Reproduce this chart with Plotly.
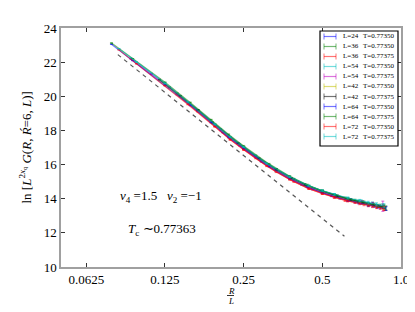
import math
import plotly.graph_objects as go

# ---------------- data ----------------
x24 = [0.208, 0.25, 0.292, 0.333, 0.375, 0.417, 0.458, 0.5, 0.542, 0.583, 0.625, 0.667, 0.708, 0.75, 0.792, 0.833, 0.875]
x36 = [0.139, 0.167, 0.194, 0.222, 0.25, 0.278, 0.333, 0.389, 0.444, 0.5, 0.556, 0.611, 0.667, 0.722, 0.778, 0.833, 0.861]
x54 = [0.0926, 0.111, 0.130, 0.167, 0.204, 0.241, 0.278, 0.333, 0.389, 0.444, 0.5, 0.556, 0.630, 0.704, 0.778, 0.852]
x42 = [0.119, 0.143, 0.167, 0.190, 0.238, 0.286, 0.333, 0.381, 0.429, 0.5, 0.571, 0.643, 0.714, 0.786, 0.857]
x64 = [0.078, 0.094, 0.125, 0.156, 0.1875, 0.219, 0.25, 0.3125, 0.375, 0.4375, 0.5, 0.5625, 0.625, 0.6875, 0.75, 0.8125, 0.875]
x72 = [0.0833, 0.0972, 0.125, 0.153, 0.194, 0.222, 0.25, 0.306, 0.375, 0.444, 0.5, 0.556, 0.625, 0.694, 0.75, 0.806, 0.861]

y_L24_T77350 = [17.88, 16.93, 16.17, 15.61, 15.16, 14.83, 14.56, 14.35, 14.17, 14.03, 13.90, 13.81, 13.72, 13.63, 13.56, 13.49, 13.42]
y_L36_T77350 = [20.18, 19.20, 18.36, 17.61, 17.02, 16.52, 15.72, 15.15, 14.74, 14.45, 14.22, 14.04, 13.91, 13.79, 13.68, 13.59, 13.54]
y_L36_T77375 = [20.10, 19.10, 18.24, 17.47, 16.87, 16.37, 15.57, 15.00, 14.59, 14.30, 14.08, 13.90, 13.78, 13.66, 13.56, 13.47, 13.43]
y_L54_T77350 = [22.24, 21.33, 20.54, 19.20, 18.08, 17.20, 16.52, 15.72, 15.15, 14.75, 14.46, 14.24, 14.01, 13.86, 13.71, 13.59]
y_L54_T77375 = [22.18, 21.30, 20.50, 19.13, 18.01, 17.12, 16.44, 15.64, 15.07, 14.66, 14.37, 14.15, 13.93, 13.78, 13.65, 13.56]
y_L42_T77350 = [20.95, 19.99, 19.15, 18.42, 17.21, 16.32, 15.66, 15.16, 14.78, 14.39, 14.11, 13.90, 13.75, 13.61, 13.49]
y_L42_T77375 = [20.98, 20.03, 19.20, 18.47, 17.26, 16.37, 15.71, 15.21, 14.83, 14.44, 14.16, 13.95, 13.80, 13.66, 13.52]
y_L64_T77350 = [23.05, 22.09, 20.66, 19.47, 18.46, 17.59, 16.93, 15.89, 15.18, 14.69, 14.36, 14.11, 13.91, 13.77, 13.64, 13.53, 13.43]
y_L64_T77375 = [23.12, 22.20, 20.82, 19.64, 18.63, 17.76, 17.09, 16.04, 15.32, 14.81, 14.46, 14.20, 13.99, 13.84, 13.70, 13.58, 13.46]
y_L72_T77350 = [22.72, 21.90, 20.62, 19.52, 18.21, 17.46, 16.87, 15.91, 15.12, 14.59, 14.30, 14.08, 13.87, 13.72, 13.61, 13.51, 13.42]
y_L72_T77375 = [22.79, 22.01, 20.76, 19.67, 18.37, 17.62, 17.03, 16.07, 15.28, 14.76, 14.47, 14.25, 14.04, 13.89, 13.77, 13.67, 13.58]

e24 = [0.02, 0.02, 0.03, 0.03, 0.03, 0.04, 0.04, 0.04, 0.05, 0.05, 0.05, 0.06, 0.06, 0.07, 0.07, 0.08, 0.10]
e36 = [0.02, 0.02, 0.02, 0.03, 0.03, 0.03, 0.04, 0.04, 0.04, 0.05, 0.05, 0.06, 0.06, 0.07, 0.08, 0.09, 0.10]
e54 = [0.01, 0.02, 0.02, 0.02, 0.03, 0.03, 0.03, 0.04, 0.04, 0.05, 0.05, 0.06, 0.07, 0.08, 0.10, 0.12]
e54b = [0.01, 0.02, 0.02, 0.02, 0.03, 0.03, 0.03, 0.04, 0.04, 0.05, 0.05, 0.06, 0.08, 0.10, 0.14, 0.30]
e42 = [0.02, 0.02, 0.02, 0.03, 0.03, 0.03, 0.04, 0.04, 0.05, 0.05, 0.06, 0.06, 0.07, 0.08, 0.10]
e64 = [0.01, 0.01, 0.02, 0.02, 0.02, 0.03, 0.03, 0.03, 0.04, 0.04, 0.05, 0.05, 0.06, 0.07, 0.08, 0.09, 0.12]
e72 = [0.01, 0.01, 0.02, 0.02, 0.02, 0.03, 0.03, 0.03, 0.04, 0.04, 0.05, 0.05, 0.06, 0.07, 0.08, 0.09, 0.12]

labels_L = ["L=24", "L=36", "L=36", "L=54", "L=54", "L=42", "L=42", "L=64", "L=64", "L=72", "L=72"]
labels_T = ["T=0.77350", "T=0.77350", "T=0.77375", "T=0.77350", "T=0.77375", "T=0.77350",
            "T=0.77375", "T=0.77350", "T=0.77375", "T=0.77350", "T=0.77375"]

dash_x = [0.0825, 0.6075]
dash_y = [22.44, 11.80]

x_ticks = [0.0625, 0.125, 0.25, 0.5, 1.0]
x_ticktext = ["0.0625", "0.125", "0.25", "0.5", "1.0"]
y_ticks = [10, 12, 14, 16, 18, 20, 22, 24]

# ---------------- styling ----------------
colors = ["rgba(0,0,255,0.55)", "rgba(0,128,0,0.55)", "rgba(255,0,0,0.55)", "rgba(0,191,191,0.55)",
          "rgba(191,0,191,0.55)", "rgba(191,191,0,0.55)", "rgba(0,0,0,0.55)", "rgba(0,0,255,0.55)",
          "rgba(0,128,0,0.55)", "rgba(255,0,0,0.55)", "rgba(0,191,191,0.55)"]

series = [
    (x24, y_L24_T77350, e24), (x36, y_L36_T77350, e36), (x36, y_L36_T77375, e36),
    (x54, y_L54_T77350, e54), (x54, y_L54_T77375, e54b), (x42, y_L42_T77350, e42),
    (x42, y_L42_T77375, e42), (x64, y_L64_T77350, e64), (x64, y_L64_T77375, e64),
    (x72, y_L72_T77350, e72), (x72, y_L72_T77375, e72),
]

SERIF = "Liberation Serif, Times New Roman, serif"

fig = go.Figure()
fig.add_trace(go.Scatter(x=dash_x, y=dash_y, mode="lines",
                         line=dict(color="#555555", width=1.2, dash="4px,4px"),
                         showlegend=False, hoverinfo="skip"))
for (xs, ys, es), c in zip(series, colors):
    fig.add_trace(go.Scatter(
        x=xs, y=ys, mode="lines",
        line=dict(color=c, width=1.2),
        error_y=dict(type="data", array=es, color=c, thickness=1, width=1.5),
        showlegend=False))

# plot-area geometry in pixels
W, H = 415, 312
ML, MR, MT, MB = 53, 22, 20, 53
PW, PH = W - ML - MR, H - MT - MB

def px(xp):
    return (xp - ML) / PW

def py(yp):
    return (H - MB - yp) / PH

shapes = []
annotations = []

# manual legend
shapes.append(dict(type="rect", xref="paper", yref="paper",
                   x0=px(312), x1=px(390), y0=py(138), y1=py(23),
                   line=dict(color="black", width=1.2), fillcolor="white", layer="above"))
for i, (c, lL, lT) in enumerate(zip(colors, labels_L, labels_T)):
    yc = 28.5 + i * 10.0
    shapes.append(dict(type="line", xref="paper", yref="paper",
                       x0=px(316), x1=px(328), y0=py(yc), y1=py(yc),
                       line=dict(color=c, width=1.2), layer="above"))
    for xe in (316, 328):
        shapes.append(dict(type="line", xref="paper", yref="paper",
                           x0=px(xe), x1=px(xe), y0=py(yc - 3), y1=py(yc + 3),
                           line=dict(color=c, width=1), layer="above"))
    annotations.append(dict(xref="paper", yref="paper", x=px(333), y=py(yc), text=lL,
                            showarrow=False, xanchor="left", yanchor="middle",
                            font=dict(family=SERIF, size=7, color="black")))
    annotations.append(dict(xref="paper", yref="paper", x=px(353), y=py(yc), text=lT,
                            showarrow=False, xanchor="left", yanchor="middle",
                            font=dict(family=SERIF, size=7, color="black")))

# in-plot text
annotations.append(dict(xref="paper", yref="paper", x=px(153), y=py(188),
                        text="<i>v</i><sub>4</sub> =1.5   <i>v</i><sub>2</sub> =−1",
                        showarrow=False, xanchor="center", yanchor="middle",
                        font=dict(family=SERIF, size=13, color="black")))
annotations.append(dict(xref="paper", yref="paper", x=px(154), y=py(221),
                        text="<i>T</i><sub>c</sub> ∼0.77363",
                        showarrow=False, xanchor="center", yanchor="middle",
                        font=dict(family=SERIF, size=13, color="black")))
# y title
annotations.append(dict(xref="paper", yref="paper", x=px(17), y=0.5,
                        text="ln [<i>L</i><sup>2<i>x</i><sub>q</sub></sup> <i>G</i>(<i>R</i>, <i>Ŕ</i>=6, <i>L</i>)]",
                        textangle=-90, showarrow=False, xanchor="center", yanchor="middle",
                        font=dict(family=SERIF, size=13, color="black")))
# x title as a fraction R / L
annotations.append(dict(xref="paper", yref="paper", x=0.5, y=py(282.5), text="<i>R</i>",
                        showarrow=False, xanchor="center", yanchor="middle",
                        font=dict(family=SERIF, size=9, color="black")))
annotations.append(dict(xref="paper", yref="paper", x=0.5, y=py(293), text="<i>L</i>",
                        showarrow=False, xanchor="center", yanchor="middle",
                        font=dict(family=SERIF, size=9, color="black")))
shapes.append(dict(type="line", xref="paper", yref="paper", x0=px(219), x1=px(226),
                   y0=py(287.5), y1=py(287.5), line=dict(color="black", width=0.8)))

fig.update_layout(
    width=W, height=H,
    margin=dict(l=ML, r=MR, t=MT, b=MB),
    paper_bgcolor="white", plot_bgcolor="white",
    shapes=shapes, annotations=annotations,
    showlegend=False,
    font=dict(family=SERIF, size=13, color="black"),
)
fig.update_xaxes(type="log", range=[math.log10(0.05), 0.0],
                 tickvals=x_ticks, ticktext=x_ticktext,
                 ticks="inside", ticklen=4, tickcolor="#333333", tickwidth=1,
                 showline=True, linecolor="#a0a0a0", linewidth=1.5, mirror="ticks",
                 showgrid=False, zeroline=False,
                 tickfont=dict(family=SERIF, size=13, color="black"))
fig.update_yaxes(range=[10, 24], tickvals=y_ticks,
                 ticks="inside", ticklen=4, tickcolor="#333333", tickwidth=1,
                 showline=True, linecolor="#a0a0a0", linewidth=1.5, mirror="ticks",
                 showgrid=False, zeroline=False,
                 tickfont=dict(family=SERIF, size=13, color="black"))

fig.write_html("out.html")
